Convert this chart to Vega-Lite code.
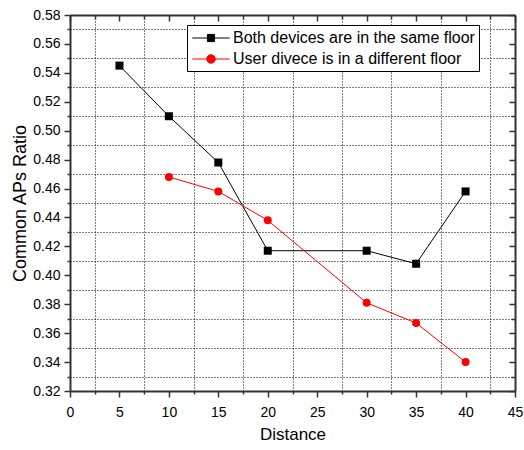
{
  "$schema": "https://vega.github.io/schema/vega-lite/v6.json",
  "width": 445,
  "height": 376,
  "autosize": {"type": "none"},
  "padding": {"left": 70, "top": 15, "right": 9, "bottom": 59},
  "background": "white",
  "config": {
    "font": "Liberation Sans",
    "view": {"stroke": null},
    "axis": {
      "labelFont": "Liberation Sans",
      "titleFont": "Liberation Sans",
      "labelColor": "#000",
      "titleColor": "#000",
      "titleFontWeight": "normal",
      "labelFontSize": 14,
      "titleFontSize": 17,
      "domainColor": "#333",
      "domainWidth": 2,
      "tickColor": "#333",
      "tickWidth": 1.5,
      "gridColor": "#000",
      "gridDash": [1, 2],
      "gridWidth": 1
    }
  },
  "data": {
    "values": [
      {"series": "Both devices are in the same floor", "distance": 5, "ratio": 0.545},
      {"series": "Both devices are in the same floor", "distance": 10, "ratio": 0.510},
      {"series": "Both devices are in the same floor", "distance": 15, "ratio": 0.478},
      {"series": "Both devices are in the same floor", "distance": 20, "ratio": 0.417},
      {"series": "Both devices are in the same floor", "distance": 30, "ratio": 0.417},
      {"series": "Both devices are in the same floor", "distance": 35, "ratio": 0.408},
      {"series": "Both devices are in the same floor", "distance": 40, "ratio": 0.458},
      {"series": "User divece is in a different floor", "distance": 10, "ratio": 0.468},
      {"series": "User divece is in a different floor", "distance": 15, "ratio": 0.458},
      {"series": "User divece is in a different floor", "distance": 20, "ratio": 0.438},
      {"series": "User divece is in a different floor", "distance": 30, "ratio": 0.381},
      {"series": "User divece is in a different floor", "distance": 35, "ratio": 0.367},
      {"series": "User divece is in a different floor", "distance": 40, "ratio": 0.340}
    ]
  },
  "layer": [
    {
      "mark": {"type": "line", "strokeWidth": 1},
      "encoding": {
        "x": {
          "field": "distance", "type": "quantitative",
          "scale": {"domain": [0, 45], "nice": false, "zero": false},
          "axis": {
            "orient": "bottom",
            "title": "Distance",
            "values": [0, 2.5, 5, 7.5, 10, 12.5, 15, 17.5, 20, 22.5, 25, 27.5, 30, 32.5, 35, 37.5, 40, 42.5, 45],
            "labelExpr": "datum.value % 5 === 0 ? datum.label : ''",
            "grid": true,
            "gridOpacity": {"condition": {"test": "datum.value % 5 !== 0", "value": 1}, "value": 0},
            "tickSize": {"condition": {"test": "datum.value % 5 === 0", "value": 6}, "value": 3},
            "labelPadding": 8,
            "titlePadding": 7,
            "labelFlush": false,
            "labelOverlap": false
          }
        },
        "y": {
          "field": "ratio", "type": "quantitative",
          "scale": {"domain": [0.32, 0.58], "nice": false, "zero": false},
          "axis": {
            "orient": "left",
            "title": "Common APs Ratio",
            "titleFontSize": 18,
            "values": [0.32, 0.33, 0.34, 0.35, 0.36, 0.37, 0.38, 0.39, 0.40, 0.41, 0.42, 0.43, 0.44, 0.45, 0.46, 0.47, 0.48, 0.49, 0.50, 0.51, 0.52, 0.53, 0.54, 0.55, 0.56, 0.57, 0.58],
            "labelExpr": "round(datum.value * 100) % 2 === 0 ? format(datum.value, '.2f') : ''",
            "grid": true,
            "gridOpacity": {"condition": {"test": "round(datum.value * 100) % 2 === 1", "value": 1}, "value": 0},
            "tickSize": {"condition": {"test": "round(datum.value * 100) % 2 === 0", "value": 6}, "value": 3},
            "labelPadding": 4,
            "titlePadding": 3,
            "labelFlush": false,
            "labelOverlap": false
          }
        },
        "color": {
          "field": "series", "type": "nominal",
          "scale": {
            "domain": ["Both devices are in the same floor", "User divece is in a different floor"],
            "range": ["#000000", "#ff0000"]
          },
          "legend": {
            "orient": "none",
            "legendX": 117,
            "legendY": 10,
            "title": null,
            "strokeColor": "#000",
            "fillColor": "#fff",
            "padding": 4,
            "labelFont": "Liberation Sans",
            "labelFontSize": 16,
            "labelColor": "#000",
            "labelLimit": 0,
            "symbolSize": 289,
            "symbolStrokeWidth": 1,
            "symbolOffset": 11,
            "labelOffset": 13,
            "rowPadding": 4,
            "encode": {
              "symbols": {
                "update": {
                  "shape": {"signal": "datum.value === 'Both devices are in the same floor' ? 'M-2.2,0H2.2M-0.42,-0.42H0.42V0.42H-0.42Z' : 'M-2.2,0H2.2M0.5,0A0.5,0.5 0 1 1 -0.5,0A0.5,0.5 0 1 1 0.5,0Z'"},
                  "fill": {"scale": "color", "field": "value"},
                  "stroke": {"scale": "color", "field": "value"},
                  "opacity": {"value": 1}
                }
              }
            }
          }
        }
      }
    },
    {
      "transform": [{"filter": "datum.series === 'Both devices are in the same floor'"}],
      "mark": {"type": "point", "shape": "square", "filled": true, "opacity": 1, "size": 64},
      "encoding": {
        "x": {
          "field": "distance", "type": "quantitative",
          "scale": {"domain": [0, 45], "nice": false, "zero": false},
          "axis": {
            "orient": "top",
            "title": null,
            "values": [0, 2.5, 5, 7.5, 10, 12.5, 15, 17.5, 20, 22.5, 25, 27.5, 30, 32.5, 35, 37.5, 40, 42.5, 45],
            "labels": false,
            "grid": false,
            "tickSize": {"condition": {"test": "datum.value % 5 === 0", "value": -6}, "value": -4}
          }
        },
        "y": {
          "field": "ratio", "type": "quantitative",
          "scale": {"domain": [0.32, 0.58], "nice": false, "zero": false},
          "axis": {
            "orient": "right",
            "title": null,
            "values": [0.32, 0.33, 0.34, 0.35, 0.36, 0.37, 0.38, 0.39, 0.40, 0.41, 0.42, 0.43, 0.44, 0.45, 0.46, 0.47, 0.48, 0.49, 0.50, 0.51, 0.52, 0.53, 0.54, 0.55, 0.56, 0.57, 0.58],
            "labels": false,
            "grid": false,
            "tickSize": {"condition": {"test": "round(datum.value * 100) % 2 === 0", "value": -6}, "value": -4}
          }
        },
        "color": {"field": "series", "type": "nominal", "legend": null}
      }
    },
    {
      "transform": [{"filter": "datum.series === 'User divece is in a different floor'"}],
      "mark": {"type": "point", "shape": "circle", "filled": true, "opacity": 1, "size": 64},
      "encoding": {
        "x": {"field": "distance", "type": "quantitative", "scale": {"domain": [0, 45], "nice": false, "zero": false}, "axis": null},
        "y": {"field": "ratio", "type": "quantitative", "scale": {"domain": [0.32, 0.58], "nice": false, "zero": false}, "axis": null},
        "color": {"field": "series", "type": "nominal", "legend": null}
      }
    }
  ],
  "resolve": {"axis": {"x": "independent", "y": "independent"}}
}
